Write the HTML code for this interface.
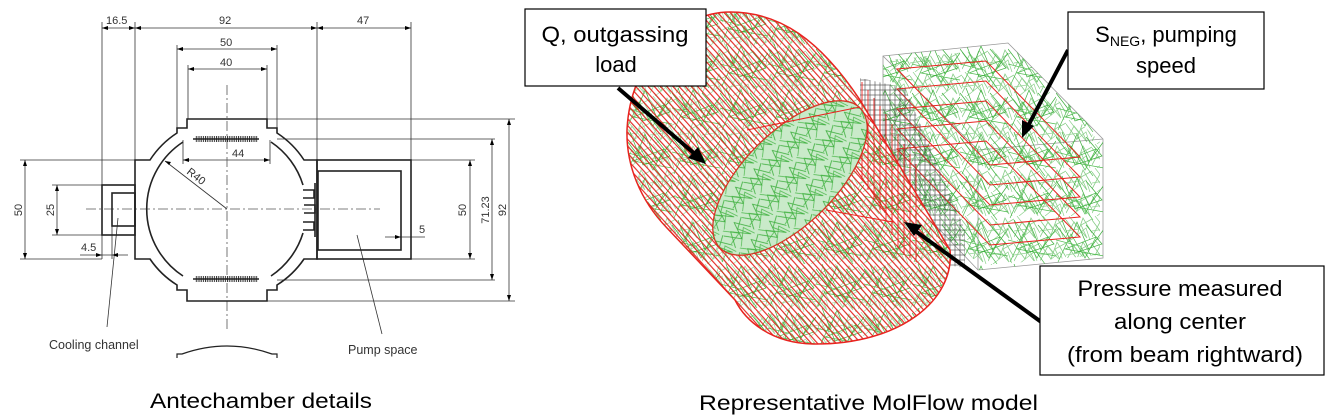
<!DOCTYPE html>
<html><head><meta charset="utf-8"><style>
html,body{margin:0;padding:0;background:#fff;}
svg{display:block;}
text{font-family:"Liberation Sans",sans-serif;}
</style></head><body>
<svg width="1340" height="419" viewBox="0 0 1340 419" xmlns="http://www.w3.org/2000/svg">
<defs>
<pattern id="stripes" patternUnits="userSpaceOnUse" width="4.6" height="4.6" patternTransform="rotate(-42)">
<line x1="0.6" y1="0" x2="0.6" y2="4.6" stroke="#e3201b" stroke-width="1.1"/>
</pattern>
<pattern id="green" patternUnits="userSpaceOnUse" width="48" height="44">
<polyline points="0,5 13,22 21,2 33,30 48,9" fill="none" stroke="#3cae3c" stroke-width="0.7"/>
<polyline points="2,42 15,14 29,38 40,17 9,29 48,36" fill="none" stroke="#4dbb4d" stroke-width="0.7"/>
<polyline points="6,0 19,33 46,24 30,5" fill="none" stroke="#3cae3c" stroke-width="0.7"/>
<polyline points="0,20 24,26 37,44" fill="none" stroke="#55bf55" stroke-width="0.7"/>
</pattern>
<pattern id="greenDense" patternUnits="userSpaceOnUse" width="26" height="24">
<polyline points="0,4 11,19 17,2 26,17" fill="none" stroke="#33a833" stroke-width="0.8"/>
<polyline points="0,21 8,6 21,22 15,9 26,3" fill="none" stroke="#3cae3c" stroke-width="0.8"/>
<polyline points="3,0 13,13 0,15" fill="none" stroke="#44b444" stroke-width="0.7"/>
<polyline points="5,24 20,12 24,24" fill="none" stroke="#44b444" stroke-width="0.7"/>
</pattern>
<pattern id="grid" patternUnits="userSpaceOnUse" width="5" height="5">
<rect x="0" y="0" width="5" height="5" fill="none" stroke="#444" stroke-width="0.6"/>
</pattern>
<pattern id="spring" patternUnits="userSpaceOnUse" width="2.2" height="6">
<line x1="1" y1="0" x2="1" y2="6" stroke="#222" stroke-width="1"/>
</pattern>
<clipPath id="cyl"><path d="M627,130 C630,60 680,12 730,12 C780,12 820,40 860,100 L950,250 C955,300 900,345 813,344 C770,343 745,320 735,300 L667,228 C640,200 626,165 627,130Z"/></clipPath>
</defs>

<!-- ============ LEFT DRAWING ============ -->
<g stroke="#333" stroke-width="0.8" fill="none">
<line x1="102" y1="22" x2="102" y2="259"/>
<line x1="135" y1="22" x2="135" y2="160"/>
<line x1="317" y1="22" x2="317" y2="160"/>
<line x1="411" y1="22" x2="411" y2="160"/>
<line x1="102" y1="28" x2="411" y2="28"/>
<line x1="177" y1="45" x2="177" y2="128"/>
<line x1="277" y1="45" x2="277" y2="128"/>
<line x1="177" y1="49" x2="277" y2="49"/>
<line x1="188" y1="65" x2="188" y2="119"/>
<line x1="267" y1="65" x2="267" y2="119"/>
<line x1="188" y1="69" x2="267" y2="69"/>
<line x1="183" y1="140" x2="183" y2="164"/>
<line x1="270" y1="140" x2="270" y2="164"/>
<line x1="183" y1="160" x2="270" y2="160"/>
<line x1="20" y1="160" x2="135" y2="160"/>
<line x1="20" y1="259" x2="102" y2="259"/>
<line x1="25" y1="160" x2="25" y2="259"/>
<line x1="52" y1="185" x2="102" y2="185"/>
<line x1="52" y1="235" x2="102" y2="235"/>
<line x1="57" y1="185" x2="57" y2="235"/>
<line x1="112" y1="226" x2="112" y2="259"/>
<line x1="80" y1="255" x2="128" y2="255"/>
<line x1="411" y1="160" x2="475" y2="160"/>
<line x1="411" y1="259" x2="475" y2="259"/>
<line x1="470" y1="160" x2="470" y2="259"/>
<line x1="277" y1="139" x2="495" y2="139"/>
<line x1="277" y1="280" x2="495" y2="280"/>
<line x1="492" y1="139" x2="492" y2="280"/>
<line x1="267" y1="119" x2="515" y2="119"/>
<line x1="267" y1="301" x2="515" y2="301"/>
<line x1="509" y1="119" x2="509" y2="301"/>
<line x1="385" y1="237" x2="425" y2="237"/>
<line x1="165" y1="161" x2="227" y2="209"/>
<line x1="107" y1="327" x2="118" y2="218"/>
<line x1="382" y1="334" x2="357" y2="235"/>
</g>
<g stroke="#555" stroke-width="0.8" stroke-dasharray="10,3,2,3" fill="none">
<line x1="86" y1="209" x2="380" y2="209"/>
<line x1="227" y1="85" x2="227" y2="331"/>
</g>
<g stroke="#222" stroke-width="1.6" fill="none">
<path d="M135,160 L150,160 A91,91 0 0 1 177,133 L177,128 L187,128 L187,119 L267,119 L267,128 L277,128 L277,133 A91,91 0 0 1 304,160 L317,160 L317,259 L304,259 A91,91 0 0 1 277,285 L277,290 L267,290 L267,301 L187,301 L187,290 L177,290 L177,285 A91,91 0 0 1 150,259 L135,259 Z"/>
<path d="M193,139 L259,139 M193,279 L259,279"/>
<path d="M183,142 A80,80 0 0 0 183,276 M271,142 A80,80 0 0 1 303,185 M303,233 A80,80 0 0 1 271,276"/>
<rect x="317" y="160" width="94" height="99"/>
<rect x="318" y="171" width="83" height="79"/>
<rect x="102" y="185" width="33" height="50"/>
<rect x="112" y="193" width="23" height="33"/>
<path d="M303,190 h11 v8 h-11 M304,205 h11 v8 h-11 M303,222 h11 v8 h-11"/>
<line x1="315" y1="183" x2="315" y2="237"/>
<path d="M177,358 v-4 h5 Q227,338 272,354 h5 v4" stroke-width="1.2"/>
</g>
<rect x="195" y="136" width="63" height="6" fill="url(#spring)"/>
<rect x="195" y="276" width="63" height="6" fill="url(#spring)"/>
<g fill="#000"><path d="M102,28 l6,-2 v4z M135,28 l-6,-2 v4z M135,28 l6,-2 v4z M317,28 l-6,-2 v4z M317,28 l6,-2 v4z M411,28 l-6,-2 v4z M177,49 l6,-2 v4z M277,49 l-6,-2 v4z M188,69 l6,-2 v4z M267,69 l-6,-2 v4z M183,160 l6,-2 v4z M270,160 l-6,-2 v4z M25,160 l-2,6 h4z M25,259 l-2,-6 h4z M57,185 l-2,6 h4z M57,235 l-2,-6 h4z M470,160 l-2,6 h4z M470,259 l-2,-6 h4z M492,139 l-2,6 h4z M492,280 l-2,-6 h4z M509,119 l-2,6 h4z M509,301 l-2,-6 h4z M102,255 l-6,-2 v4z M112,255 l6,-2 v4z M401,237 l-6,-2 v4z M165,161 l6,1 -2,3z"/></g>
<g font-size="11" fill="#333">
<text x="106" y="24">16.5</text>
<text x="219" y="24">92</text>
<text x="357" y="24">47</text>
<text x="220" y="46">50</text>
<text x="220" y="66">40</text>
<text x="232" y="157">44</text>
<text x="81" y="251">4.5</text>
<text x="419" y="233">5</text>
<text transform="translate(22,210) rotate(-90)" text-anchor="middle">50</text>
<text transform="translate(54,210) rotate(-90)" text-anchor="middle">25</text>
<text transform="translate(466,210) rotate(-90)" text-anchor="middle">50</text>
<text transform="translate(489,210) rotate(-90)" text-anchor="middle">71.23</text>
<text transform="translate(506,210) rotate(-90)" text-anchor="middle">92</text>
<text transform="translate(186,173) rotate(38)">R40</text>
<text x="49" y="349" font-size="12.5">Cooling channel</text>
<text x="348" y="354" font-size="12.5">Pump space</text>
</g>
<text x="150" y="408" font-size="21" fill="#000" textLength="222" lengthAdjust="spacingAndGlyphs">Antechamber details</text>

<!-- ============ RIGHT MODEL ============ -->
<g stroke="#999" stroke-width="0.8" fill="none">
<path d="M883,56 L1008,43 L1103,139 L1103,258 L978,270 L883,170 Z"/>
<path d="M978,150 L1103,139 M978,150 L978,270 M883,56 L978,150"/>
</g>
<path d="M883,56 L1008,43 L1103,139 L1103,258 L978,270 L883,170 Z" fill="url(#green)"/>
<path d="M890,60 L1005,48 L1100,142 L1100,255 L980,266 L890,170 Z" fill="url(#greenDense)" opacity="0.6"/>
<g stroke="#e8231f" stroke-width="1" fill="none">
<path d="M897,69 L986,61 L1080,157 L990,165 Z"/>
<path d="M897,89 L986,81 L1080,177 L990,185 Z"/>
<path d="M897,109 L986,101 L1080,197 L990,205 Z"/>
<path d="M897,129 L986,121 L1080,217 L990,225 Z"/>
<path d="M897,149 L986,141 L1080,237 L990,245 Z"/>
</g>
<path d="M860,78 L905,88 L965,230 L965,268 L905,258 L860,200 Z" fill="url(#grid)"/>
<!-- cylinder -->
<g clip-path="url(#cyl)">
<rect x="600" y="0" width="380" height="360" fill="#fff"/>
<rect x="600" y="0" width="380" height="360" fill="url(#green)"/>
<rect x="600" y="0" width="380" height="360" fill="url(#greenDense)" opacity="0.5"/>
<rect x="600" y="0" width="380" height="360" fill="url(#stripes)"/>
</g>
<path d="M627,130 C630,60 680,12 730,12 C780,12 820,40 860,100 L950,250 C955,300 900,345 813,344 C770,343 745,320 735,300 L667,228 C640,200 626,165 627,130Z" fill="none" stroke="#e8231f" stroke-width="1.5"/>
<g stroke="#e8231f" stroke-width="0.9">
<line x1="862" y1="82" x2="862" y2="180"/><line x1="868" y1="90" x2="868" y2="190"/><line x1="874" y1="98" x2="874" y2="200"/><line x1="880" y1="106" x2="880" y2="210"/><line x1="886" y1="114" x2="886" y2="222"/><line x1="892" y1="124" x2="892" y2="235"/><line x1="898" y1="134" x2="898" y2="248"/><line x1="904" y1="144" x2="904" y2="255"/><line x1="910" y1="154" x2="910" y2="258"/><line x1="916" y1="164" x2="916" y2="262"/>
</g>
<ellipse cx="790" cy="178" rx="99" ry="46" transform="rotate(-45 790 178)" fill="#fff" stroke="none"/>
<ellipse cx="790" cy="178" rx="99" ry="46" transform="rotate(-45 790 178)" fill="url(#greenDense)" stroke="#e8231f" stroke-width="1.3"/>
<ellipse cx="790" cy="178" rx="99" ry="46" transform="rotate(-45 790 178)" fill="#4cb84c" opacity="0.3"/>
<path d="M747,130 L860,107 M826,210 L893,222 L855,168" stroke="#e8231f" stroke-width="1" fill="none"/>

<g stroke="#000" stroke-width="4" fill="none">
<line x1="618" y1="88" x2="696" y2="155"/>
<line x1="1068" y1="50" x2="1028" y2="126"/>
<line x1="1044" y1="324" x2="914" y2="230"/>
</g>
<g fill="#000">
<path d="M706,164 L688,158 L698,147 Z"/>
<path d="M1022,138 L1022,120 L1034,126 Z"/>
<path d="M904,222 L922,225 L914,236 Z"/>
</g>

<g fill="#fff" stroke="#000" stroke-width="1.2">
<rect x="525" y="9" width="181" height="77"/>
<rect x="1068" y="12" width="196" height="77"/>
<rect x="1040" y="266" width="284" height="109"/>
</g>
<g font-size="22" fill="#000" text-anchor="middle">
<text x="615" y="42" textLength="147" lengthAdjust="spacingAndGlyphs">Q, outgassing</text>
<text x="616" y="72">load</text>
<text x="1166" y="42"><tspan>S</tspan><tspan font-size="14" dy="4">NEG</tspan><tspan dy="-4">, pumping</tspan></text>
<text x="1166" y="73">speed</text>
<text x="1180" y="296" textLength="205" lengthAdjust="spacingAndGlyphs">Pressure measured</text>
<text x="1180" y="329" textLength="132" lengthAdjust="spacingAndGlyphs">along center</text>
<text x="1185" y="362" textLength="236" lengthAdjust="spacingAndGlyphs">(from beam rightward)</text>
</g>
<text x="699" y="410" font-size="21" fill="#000" textLength="339" lengthAdjust="spacingAndGlyphs">Representative MolFlow model</text>
</svg>
</body></html>
